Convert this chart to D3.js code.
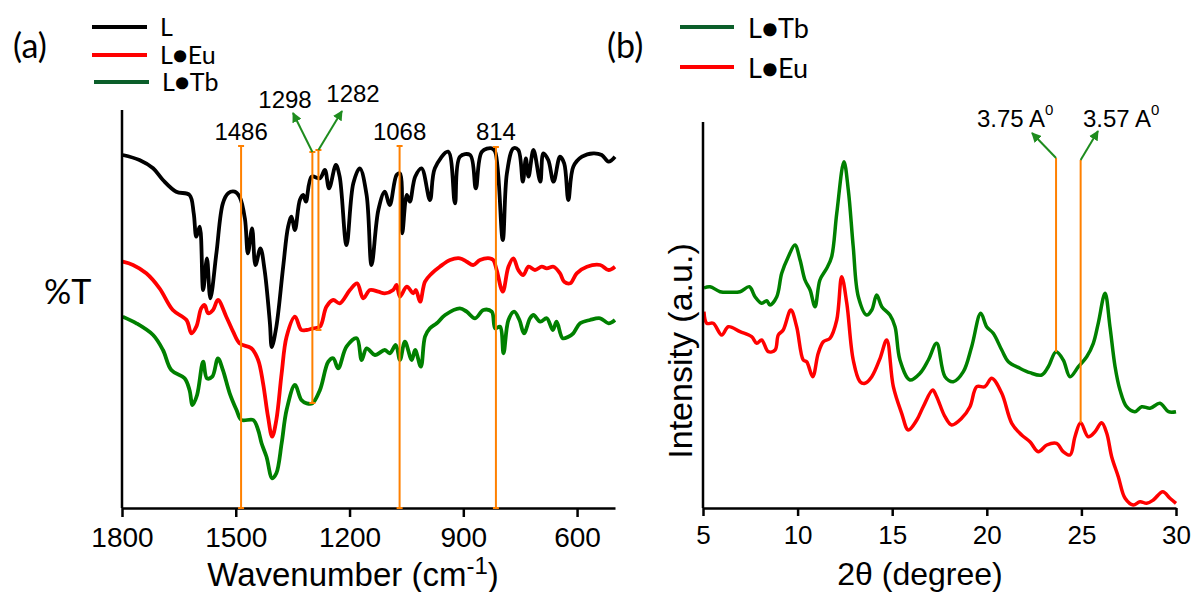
<!DOCTYPE html>
<html><head><meta charset="utf-8">
<script src="https://cdn.jsdelivr.net/npm/d3@7"></script>
<style>body{margin:0;background:#fff}svg{display:block}</style>
</head><body><svg id="c" width="1194" height="592"></svg>
<script>
// ---------- Panel (a): FTIR ----------
const ftirTicks = [1800, 1500, 1200, 900, 600];
const wnL = [1798,1754,1718,1692,1657,1622,1611,1604,1595,1586,1576,1567,1551,1534,1520,1503,1490,1476,1468,1457,1448,1435,1424,1410,1405,1393,1375,1362,1353,1344,1331,1322,1315,1300,1278,1265,1254,1236,1226,1208,1190,1173,1155,1142,1124,1107,1094,1076,1067,1061,1049,1041,1027,1010,988,975,940,922,909,882,867,851,825,816,796,785,768,755,743,735,728,715,697,689,676,662,645,634,623,610,587,557,535,517,500];
const tL = [353,348,339.7,328,316.3,313,295,271.3,281.3,218,249.7,209.7,255,304.7,314.7,316.3,311.3,289.7,254.7,279.7,243,259.7,238,185,161,181.3,241.3,281.3,291.3,278,308,313,306.3,331.3,329.7,338,319.7,343,331.3,263,324.7,339.7,313,243,298,316.3,303,333,334.7,274.7,313,306.3,331.3,339.7,308,339.7,356.3,304.7,351.3,353,319.7,356.3,359.7,356.3,268,334.7,359.7,358,326.3,349.7,331.3,358,326.3,354.7,348,326.3,351.3,344.7,308,341.3,351.3,354.7,353,346.3,351.3];
const wnEu = [1798,1771,1736,1701,1666,1630,1617,1604,1591,1582,1573,1560,1547,1525,1507,1490,1459,1441,1428,1415,1404,1393,1379,1366,1344,1327,1313,1296,1278,1261,1243,1226,1199,1180,1164,1146,1124,1107,1085,1076,1067,1049,1032,1025,1014,1001,983,962,935,909,891,874,856,830,821,812,796,781,768,755,742,728,711,693,680,662,645,634,618,601,574,539,517,500];
const tEu = [246.3,243,234.7,219.7,198,188,174.7,181.3,199.7,203,194.7,198,208,191.3,176.3,164.7,159.7,148,124.7,91.3,71.3,88,134.7,171.3,191.3,178,178,179.7,181.3,201.3,208,204.7,218,224.7,209.7,218,216.3,214.7,218,223,211.3,221.3,214.7,218,206.3,226.3,234.7,241.3,248,249.7,246.3,243,248,249.7,248,238,216.3,241.3,249.7,238,233,241.3,238,241.3,239.7,241.3,234.7,226.3,224.7,234.7,241.3,243,238,241.3];
const wnTb = [1798,1762,1718,1692,1670,1635,1622,1614,1602,1586,1576,1562,1547,1534,1516,1498,1485,1454,1441,1432,1419,1404,1393,1379,1366,1344,1327,1313,1298,1278,1256,1243,1230,1208,1181,1168,1155,1133,1107,1094,1078,1067,1054,1036,1027,1012,1001,988,970,948,909,891,869,847,825,816,803,794,781,766,752,740,724,715,697,680,664,654,638,623,610,592,566,539,517,500];
const tTb = [191.3,184.7,173,158,138,129.7,118,103,113,146.3,129.7,131.3,149.7,138,114.7,98,88,88,78,64.7,51.3,29.7,34.7,64.7,98,123,108,104.7,104.7,118,146.3,149.7,139.7,161.3,169.7,148,159.7,153,158,154.7,163,148,166.3,148,158,141.3,171.3,179.7,184.7,193,199.7,196.3,189.7,198,196.3,179.7,181.3,154.7,188,196.3,188,174.7,189.7,193,186.3,189.7,178,186.3,169.7,171.3,174.7,184.7,188,189.7,184.7,188];
const ftirPeaks = [1486, 1298, 1282, 1068, 814];
const ftirPeakTop = [362, 356, 358, 362, 361];
const ftirPeakBottom = [0, 105, 178, 0, 0];

// ---------- Panel (b): XRD ----------
const xrdTicks = [5, 10, 15, 20, 25, 30];
const ttTb = [5.05,5.37,5.90,6.43,6.96,7.45,7.75,8.10,8.37,8.54,8.90,9.16,9.51,9.86,10.13,10.39,10.66,10.92,11.18,11.54,11.80,12.07,12.45,12.68,12.94,13.21,13.65,13.92,14.18,14.45,14.88,15.15,15.41,15.94,16.47,16.91,17.35,17.79,18.23,18.76,19.20,19.68,19.99,20.34,20.79,21.14,21.75,22.28,22.90,23.25,23.66,24.04,24.40,24.84,25.28,25.63,25.89,26.25,26.51,26.78,27.04,27.39,27.83,28.19,28.63,29.15,29.60,30.0];
const iTb = [220,221.3,216.3,215.7,216.3,221.3,211.3,204.7,207.3,203,211.3,234.7,251.3,263,248,228,218,201.3,228,239.7,251.3,294.7,346.3,318,261.3,211.3,193,198,213,201.3,193,181.3,148,128,134.7,148,164.7,131.3,126.3,136.3,161.3,194.7,181.3,174.7,158,146.3,139.7,135.3,133,141.3,156.3,148,131.3,141.3,151.3,164.7,184.7,214.7,181.3,141.3,118,101.3,96.3,101.3,99.7,104.7,96.3,96.3];
const ttEu = [5.05,5.20,5.54,5.99,6.34,6.96,7.57,7.84,8.10,8.45,8.81,8.98,9.24,9.64,9.95,10.30,10.48,10.80,11.09,11.36,11.71,12.07,12.33,12.60,12.94,13.30,13.56,13.92,14.36,14.71,15.06,15.50,15.85,16.30,16.64,17.14,17.35,17.79,18.14,18.67,19.11,19.47,19.90,20.26,20.79,21.32,21.84,22.28,22.72,23.17,23.69,24.04,24.40,24.66,24.96,25.36,25.72,26.07,26.34,26.60,26.95,27.31,27.74,28.10,28.45,28.80,29.30,29.68,30.0];
const iEu = [196.3,184.7,184.7,173,181.3,176.3,171.3,164.7,168,156.3,158,173,178,198,181.3,148,146.3,131.3,154.7,166.3,169.7,188,231.3,204.7,148,126.3,124.7,131.3,149.7,168,121.3,94.7,78,88,101.3,118,111.3,91.3,83,89.7,101.3,121.3,121.3,129.7,114.7,84.7,73,66.3,56.3,63,64.7,56.3,53,71.3,85.3,71.3,76.3,85.3,74.7,51.3,31.3,9.7,3,6.3,4.7,8,16.3,9.7,4.7];
const xrdPeaks = [23.66, 24.96];
const xrdPeakTop = [350, 348];
const xrdPeakBottom = [156, 85];

const ARIAL = "'Liberation Sans', Arial, sans-serif";
const CAL = "Lato, 'Open Sans', sans-serif";
const ORANGE = "#ff8000";
const ARROW = "#1e8c1e";

const svg = d3.select("#c");
const defs = svg.append("defs");
defs.append("marker").attr("id","ah").attr("viewBox","0 0 10 10").attr("refX",9).attr("refY",5)
  .attr("markerWidth",5).attr("markerHeight",5).attr("orient","auto")
  .append("path").attr("d","M0,0L10,5L0,10z").attr("fill",ARROW);

function zip(a,b){return a.map((v,i)=>[v,b[i]]);}

// ---- Panel a ----
const xa = d3.scaleLinear().domain([1800,500]).range([122,615]);
const ya = d3.scaleLinear().domain([0,398]).range([508,110]);
const ga = svg.append("g");
[[wnL,tL,"#000"],[wnEu,tEu,"#ff0000"],[wnTb,tTb,"#008000"]].forEach(([x,y,c])=>{
  ga.append("path").datum(zip(x,y)).attr("d",d3.line().x(d=>xa(d[0])).y(d=>ya(d[1])).curve(d3.curveCatmullRom.alpha(0.5)))
    .attr("fill","none").attr("stroke",c).attr("stroke-width",3.8).attr("stroke-linejoin","round");
});
const axA = ga.append("g").attr("transform","translate(0,508)")
  .call(d3.axisBottom(xa).tickValues(ftirTicks).tickSize(9).tickSizeOuter(0).tickFormat(d3.format("d")));
axA.select(".domain").attr("stroke-width",2.5);
axA.selectAll(".tick line").attr("stroke-width",2.5);
axA.selectAll("text").attr("font-family",ARIAL).attr("font-size",28).attr("fill","#000").attr("dy","0.95em");
ga.append("line").attr("x1",122).attr("x2",122).attr("y1",ya(398)).attr("y2",508).attr("stroke","#000").attr("stroke-width",2.5);
ftirPeaks.forEach((p,i)=>{
  const x=xa(p), y1=ya(ftirPeakTop[i]), y2=ya(ftirPeakBottom[i]);
  ga.append("line").attr("x1",x).attr("x2",x).attr("y1",y1).attr("y2",y2).attr("stroke",ORANGE).attr("stroke-width",2);
  [y1,y2].forEach(yy=>ga.append("line").attr("x1",x-3).attr("x2",x+3).attr("y1",yy).attr("y2",yy).attr("stroke",ORANGE).attr("stroke-width",2));
});
[[1486,140],[1068,140],[814,140]].forEach(([p,y])=>ga.append("text").attr("x",xa(p)).attr("y",y).attr("text-anchor","middle")
  .attr("font-family",ARIAL).attr("font-size",24).text(p));
ga.append("text").attr("x",285).attr("y",108).attr("text-anchor","middle").attr("font-family",ARIAL).attr("font-size",24).text("1298");
ga.append("text").attr("x",353).attr("y",102).attr("text-anchor","middle").attr("font-family",ARIAL).attr("font-size",24).text("1282");
ga.append("line").attr("x1",xa(1298)).attr("y1",ya(356)).attr("x2",293).attr("y2",113).attr("stroke",ARROW).attr("stroke-width",2).attr("marker-end","url(#ah)");
ga.append("line").attr("x1",xa(1282)).attr("y1",ya(358)).attr("x2",342).attr("y2",111).attr("stroke",ARROW).attr("stroke-width",2).attr("marker-end","url(#ah)");
ga.append("text").attr("x",13).attr("y",58).attr("font-family",CAL).attr("font-size",34).text("(a)");
ga.append("text").attr("x",44).attr("y",304).attr("font-family",CAL).attr("font-size",34).text("%T");
const wt = ga.append("text").attr("x",353).attr("y",586).attr("text-anchor","middle").attr("font-family",ARIAL).attr("font-size",33);
wt.append("tspan").text("Wavenumber (cm");
wt.append("tspan").attr("font-size",24).attr("dy",-12).text("-1");
wt.append("tspan").attr("dy",12).text(")");
const legA = [["L","#000",27,36],["L\u25CFEu","#ff0000",55,64],["L\u25CFTb","#0b5e2a",82,91]];
legA.forEach(([t,c,ly,ty],i)=>{
  ga.append("line").attr("x1",92+(i==2?2:0)).attr("x2",147+(i==2?2:0)).attr("y1",ly).attr("y2",ly).attr("stroke",c).attr("stroke-width",4);
  ga.append("text").attr("x",160+(i==2?2:0)).attr("y",ty).attr("font-family",CAL).attr("font-size",25).text(t);
});

// ---- Panel b ----
const xb = d3.scaleLinear().domain([5,30]).range([703,1176]);
const yb = d3.scaleLinear().domain([0,386]).range([508,122]);
const gb = svg.append("g");
[[ttTb,iTb,"#008000"],[ttEu,iEu,"#ff0000"]].forEach(([x,y,c])=>{
  gb.append("path").datum(zip(x,y)).attr("d",d3.line().x(d=>xb(d[0])).y(d=>yb(d[1])).curve(d3.curveCatmullRom.alpha(0.5)))
    .attr("fill","none").attr("stroke",c).attr("stroke-width",3.5).attr("stroke-linejoin","round");
});
const axB = gb.append("g").attr("transform","translate(0,508)")
  .call(d3.axisBottom(xb).tickValues(xrdTicks).tickSize(8).tickSizeOuter(0));
axB.select(".domain").attr("stroke-width",2.5);
axB.selectAll(".tick line").attr("stroke-width",2.5);
axB.selectAll("text").attr("font-family",ARIAL).attr("font-size",26).attr("fill","#000").attr("dy","0.95em");
gb.append("line").attr("x1",703).attr("x2",703).attr("y1",yb(386)).attr("y2",508).attr("stroke","#000").attr("stroke-width",2.5);
xrdPeaks.forEach((p,i)=>{
  const x=xb(p), y1=yb(xrdPeakTop[i]), y2=yb(xrdPeakBottom[i]);
  gb.append("line").attr("x1",x).attr("x2",x).attr("y1",y1).attr("y2",y2).attr("stroke",ORANGE).attr("stroke-width",2);
});
gb.append("line").attr("x1",xb(23.66)).attr("y1",yb(350)).attr("x2",1032).attr("y2",133).attr("stroke",ARROW).attr("stroke-width",2).attr("marker-end","url(#ah)");
gb.append("line").attr("x1",xb(24.96)).attr("y1",yb(348)).attr("x2",1098).attr("y2",131).attr("stroke",ARROW).attr("stroke-width",2).attr("marker-end","url(#ah)");
[["3.75 A",977],["3.57 A",1083]].forEach(([t,x])=>{
  const tx = gb.append("text").attr("x",x).attr("y",127).attr("font-family",ARIAL).attr("font-size",24);
  tx.append("tspan").text(t);
  tx.append("tspan").attr("font-size",15).attr("dy",-12).text("0");
});
gb.append("text").attr("x",607).attr("y",58).attr("font-family",CAL).attr("font-size",34).text("(b)");
gb.append("text").attr("transform","translate(692,351) rotate(-90)").attr("text-anchor","middle")
  .attr("font-family",ARIAL).attr("font-size",34).text("Intensity (a.u.)");
gb.append("text").attr("x",920).attr("y",585).attr("text-anchor","middle").attr("font-family",ARIAL).attr("font-size",32).text("2\u03B8 (degree)");
const legB = [["L\u25CFTb","#0b5e2a",27,38],["L\u25CFEu","#ff0000",67,78]];
legB.forEach(([t,c,ly,ty])=>{
  gb.append("line").attr("x1",680).attr("x2",734).attr("y1",ly).attr("y2",ly).attr("stroke",c).attr("stroke-width",4);
  gb.append("text").attr("x",748).attr("y",ty).attr("font-family",CAL).attr("font-size",27).text(t);
});
</script></body></html>
